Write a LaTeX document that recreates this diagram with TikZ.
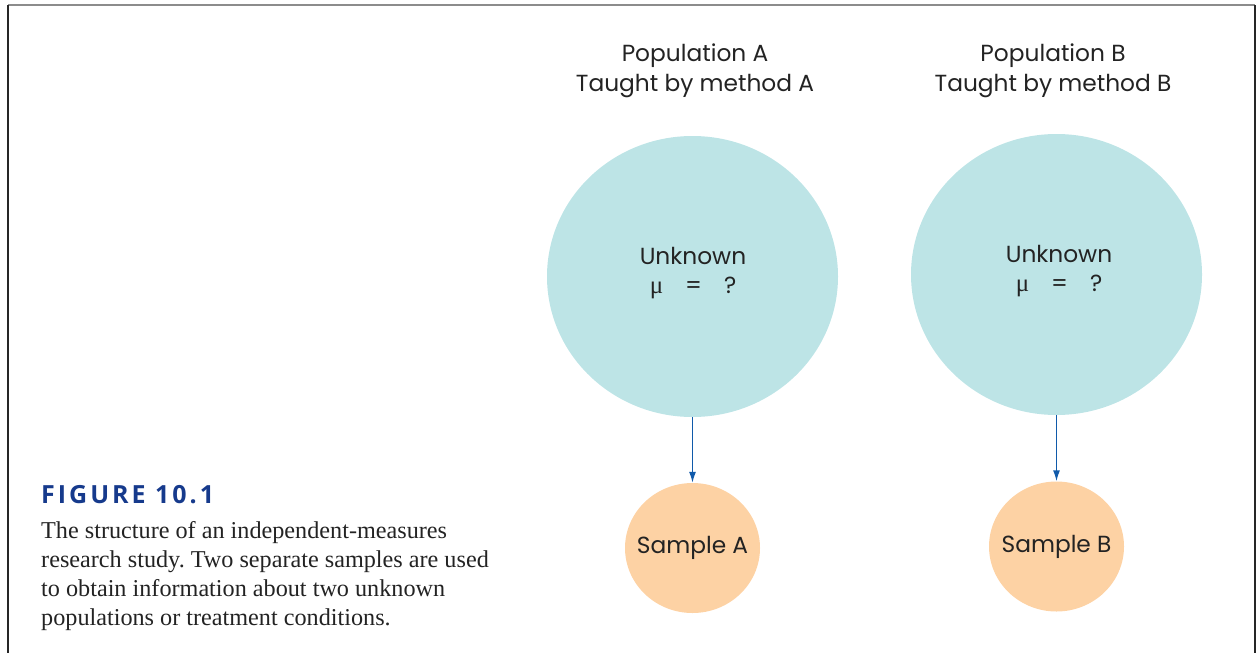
\documentclass[tikz,border=0pt]{standalone}
\usepackage{fontspec}
\setmainfont{Liberation Serif}
\newfontfamily\diafont{Poppins}
\newfontfamily\figfont[LetterSpace=12]{Open Sans}
\usetikzlibrary{shapes.geometric,arrows.meta}
\definecolor{bigfill}{RGB}{189,228,230}
\definecolor{smallfill}{RGB}{253,210,164}
\definecolor{arrowblue}{RGB}{16,90,170}
\definecolor{figblue}{RGB}{22,58,140}
\definecolor{txt}{RGB}{35,35,35}
\tikzset{
  bigcirc/.style={ellipse,fill=bigfill,minimum width=291pt,minimum height=281pt,inner sep=0pt},
  smallcirc/.style={ellipse,fill=smallfill,minimum width=135pt,minimum height=130pt,inner sep=0pt},
  dtext/.style={font=\diafont\fontsize{23.3}{29.5}\selectfont,text=txt,align=center,inner sep=0pt},
  arrowc/.style={draw=arrowblue,line width=1.4pt,-{Latex[length=11pt,width=7pt]}},
  captxt/.style={font=\fontsize{24.2}{29.2}\selectfont,text=txt,align=left,anchor=north west,inner sep=0pt}
}
\newcommand{\muline}{{\rmfamily\fontsize{25}{29}\selectfont μ}\hspace{22pt}=\hspace{22pt}?}
\frenchspacing
\begin{document}
\begin{tikzpicture}[x=1pt,y=-1pt]
\useasboundingbox (0,0) rectangle (1260,653);
\draw[line width=1.5pt,color=black!45] (8,5) -- (1255,5);
\draw[line width=1.5pt,color=black!85] (8,5) -- (8,653);
\draw[line width=1.5pt,color=black!85] (1255,5) -- (1255,653);

\node[dtext] (popA) at (695,71) {Population A\\Taught by method A};
\node[dtext] (popB) at (1053,71) {Population B\\Taught by method B};

\node[bigcirc] (bigA) at (692.5,276.5) {};
\node[bigcirc] (bigB) at (1056.5,274.5) {};
\node[dtext] (unkA) at (693,273) {Unknown\\\muline};
\node[dtext] (unkB) at (1059,271) {Unknown\\\muline};

\node[smallcirc] (smA) at (692.5,548) {};
\node[smallcirc] (smB) at (1056.5,546.5) {};
\node[dtext] (smAt) at (smA) {Sample A};
\node[dtext] (smBt) at (smB) {Sample B};

\draw[arrowc] (bigA.south) -- (smA.north);
\draw[arrowc] (bigB.south) -- (smB.north);

\node[anchor=north west,inner sep=0pt,font=\figfont\bfseries\fontsize{25}{28}\selectfont,text=figblue] (figlab) at (41,485) {FIGURE 10.1};
\node[captxt] (cap) at (41,521) {The structure of an independent-measures\\research study. Two separate samples are used\\to obtain information about two unknown\\populations or treatment conditions.};
\end{tikzpicture}
\end{document}
